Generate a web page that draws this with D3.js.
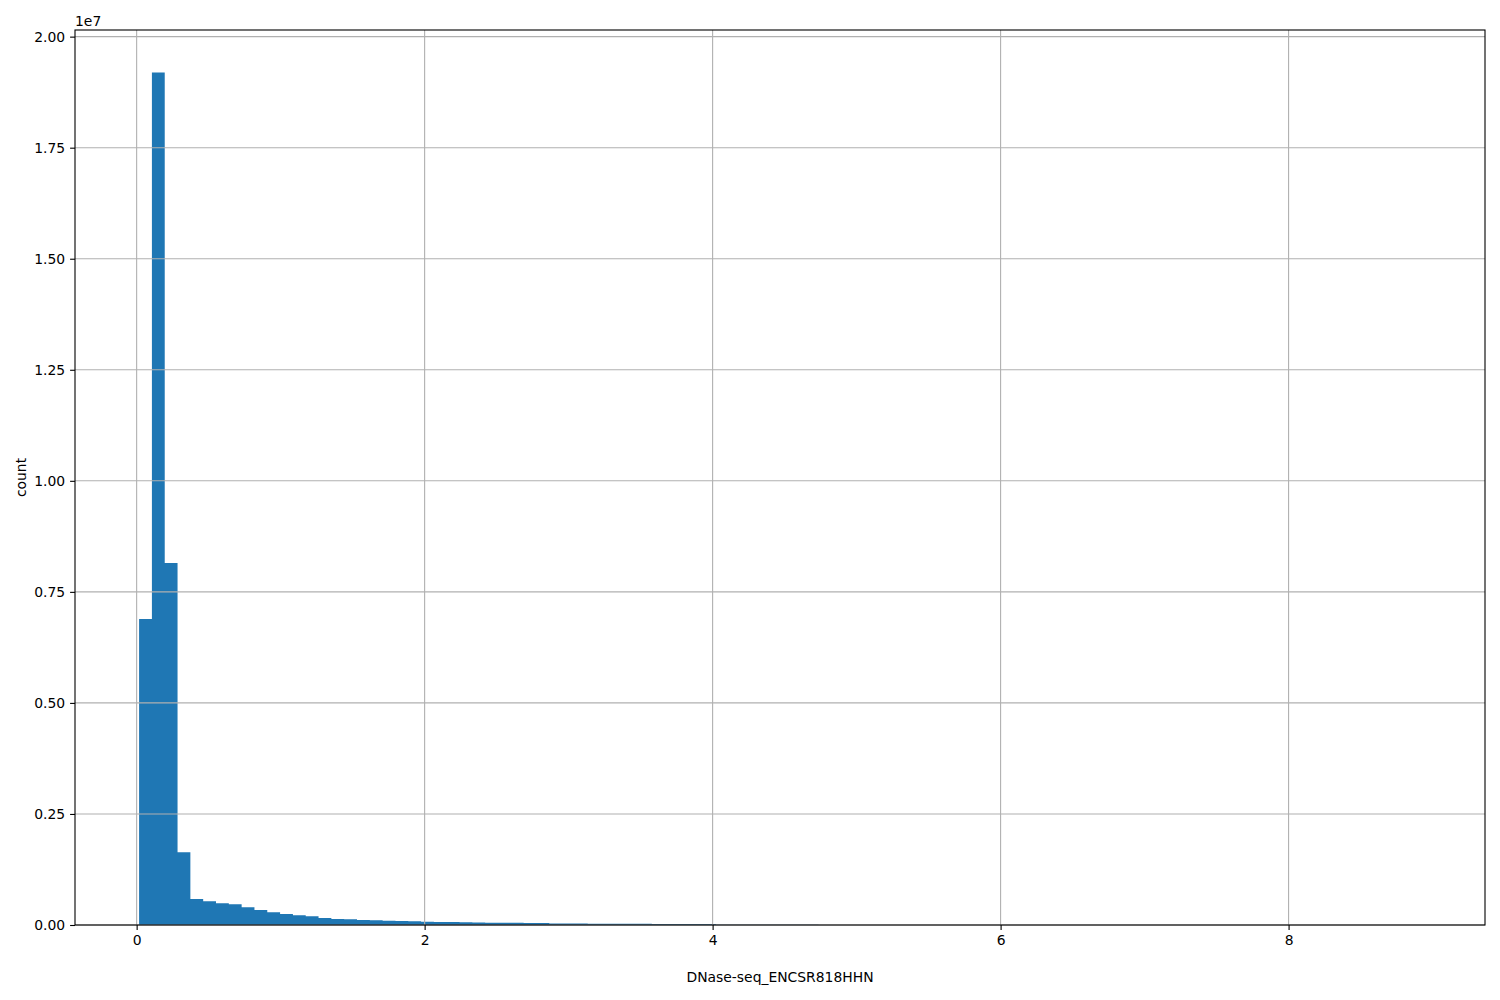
<!DOCTYPE html>
<html>
<head>
<meta charset="utf-8">
<script src="https://cdn.jsdelivr.net/npm/d3@7/dist/d3.min.js"></script>
<style>
  html, body { margin: 0; padding: 0; background: #fff; }
  svg { display: block; font-family: "DejaVu Sans", sans-serif; }
</style>
</head>
<body>
<svg id="chart" width="1500" height="1000"></svg>
<script>
// ---- data ----
const binLo = 0.017;      // left edge of first bin
const binHi = 8.919;      // right edge of last bin
const counts = [
  6890000, 19190000, 8150000, 1640000, 585000, 535000, 490000, 465000, 400000, 335000,
  288000, 245000, 220000, 195000, 155000, 135000, 128000, 110000, 105000, 95000,
  90000, 85000, 72000, 70000, 67000, 64000, 55000, 53000, 51000, 49000,
  47000, 45000, 36000, 34000, 32000, 30000, 29000, 28000, 27000, 26000,
  25000, 24000, 23000, 22000, 21000, 6000, 5200, 4700, 4300, 3900,
  3600, 3300, 3000, 2800, 2600, 2400, 2200, 2000, 1900, 1750,
  1600, 1500, 1400, 1300, 1200, 1100, 1000, 950, 880, 820,
  760, 700, 650, 600, 560, 520, 480, 450, 420, 390,
  360, 330, 300, 280, 260, 240, 220, 200, 180, 160,
  150, 140, 120, 110, 100, 90, 80, 70, 60, 50
];
const xTicks = [0, 2, 4, 6, 8];
const yTicks = [0, 2500000, 5000000, 7500000, 10000000, 12500000, 15000000, 17500000, 20000000];
const xLabel = "DNase-seq_ENCSR818HHN";
const yLabel = "count";
const offsetText = "1e7";

// ---- layout ----
const W = 1500, H = 1000;
const m = { left: 75, right: 15, top: 30, bottom: 75 };
const pw = W - m.left - m.right, ph = H - m.top - m.bottom;
const svg = d3.select("#chart");
const g = svg.append("g").attr("transform", `translate(${m.left},${m.top})`);

const nb = counts.length;
const bw = (binHi - binLo) / nb;
const bins = counts.map((c, i) => ({ x0: binLo + i * bw, x1: binLo + (i + 1) * bw, c }));

const span = binHi - binLo;
const x = d3.scaleLinear().domain([binLo - 0.05 * span, binHi + 0.05 * span]).range([0, pw]);
const ymax = d3.max(counts) * 1.05;
const y = d3.scaleLinear().domain([0, ymax]).range([ph, 0]);

const fs = "13.9px";

// bars: drawn as one outline path so adjacent bars have no seams
const p = d3.path();
p.moveTo(x(bins[0].x0), y(0));
bins.forEach(b => { p.lineTo(x(b.x0), y(b.c)); p.lineTo(x(b.x1), y(b.c)); });
p.lineTo(x(bins[nb - 1].x1), y(0));
p.closePath();
g.append("path").attr("d", p.toString()).attr("fill", "#1f77b4");

// grid (above bars, like matplotlib)
const grid = g.append("g").attr("stroke", "#b0b0b0").attr("stroke-width", 1.1);
grid.selectAll("line.gx").data(xTicks).join("line")
  .attr("x1", d => x(d)).attr("x2", d => x(d)).attr("y1", 0).attr("y2", ph);
grid.selectAll("line.gy").data(yTicks).join("line")
  .attr("y1", d => y(d)).attr("y2", d => y(d)).attr("x1", 0).attr("x2", pw);

// axes
const xAxis = d3.axisBottom(x).tickValues(xTicks).tickSize(4.9).tickPadding(4.9).tickFormat(d3.format("d"));
const yAxis = d3.axisLeft(y).tickValues(yTicks).tickSize(4.9).tickPadding(4.9).tickFormat(d => (d / 1e7).toFixed(2));

const gx = g.append("g").attr("transform", `translate(0,${ph})`).call(xAxis);
const gy = g.append("g").call(yAxis);
[gx, gy].forEach(a => {
  a.select(".domain").remove();
  a.selectAll(".tick line").attr("stroke", "#000").attr("stroke-width", 1.1);
  a.selectAll(".tick text").attr("fill", "#000").style("font-size", fs).style("font-family", "DejaVu Sans");
});

// frame
g.append("rect").attr("x", 0).attr("y", 0).attr("width", pw).attr("height", ph)
  .attr("fill", "none").attr("stroke", "#000").attr("stroke-width", 1.1);

// labels
svg.append("text").attr("x", m.left + pw / 2).attr("y", 982).attr("text-anchor", "middle")
  .style("font-size", fs).text(xLabel);
svg.append("text").attr("transform", `translate(26,${m.top + ph / 2}) rotate(-90)`)
  .attr("text-anchor", "middle").style("font-size", fs).text(yLabel);
svg.append("text").attr("x", m.left).attr("y", 26).attr("text-anchor", "start")
  .style("font-size", fs).text(offsetText);
</script>
</body>
</html>
